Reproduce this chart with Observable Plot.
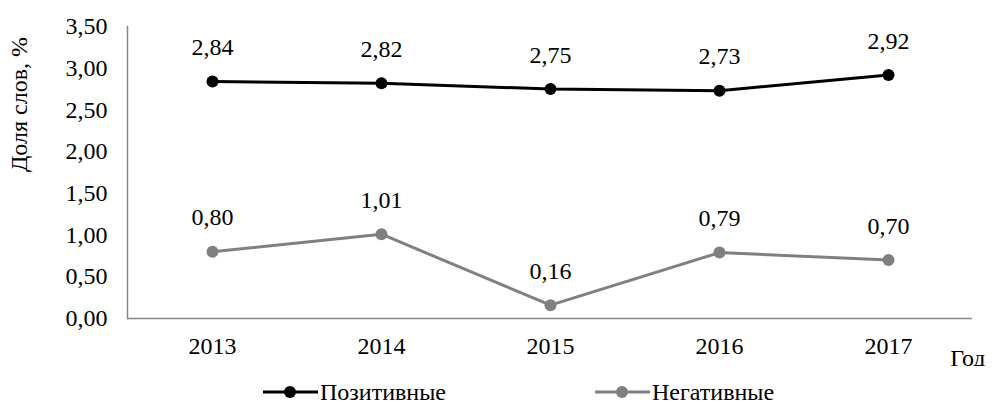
<!DOCTYPE html>
<html>
<head>
<meta charset="utf-8">
<script src="https://cdn.jsdelivr.net/npm/d3@7"></script>
<script src="https://cdn.jsdelivr.net/npm/@observablehq/plot@0.6"></script>
<style>
  body { margin: 0; background: #fff; font-family: "Liberation Serif", serif; overflow: hidden; }
  #legend { position: relative; width: 994px; height: 38px; font-size: 24px; color: #000; }
  .item { position: absolute; top: 6px; height: 40px; display: flex; align-items: center; }
  svg text { font-family: "Liberation Serif", serif; }
</style>
</head>
<body>
<div id="chart"></div>
<div id="legend"></div>
<script>
const years = ["2013", "2014", "2015", "2016", "2017"];
const positive = [2.84, 2.82, 2.75, 2.73, 2.92];
const negative = [0.80, 1.01, 0.16, 0.79, 0.70];
const seriesNames = ["Позитивные", "Негативные"];
const seriesColors = ["#000000", "#808080"];
const yTicks = [0, 0.5, 1, 1.5, 2, 2.5, 3, 3.5];

const fmt = v => d3.format(".2f")(v).replace(".", ",");

const rows = [];
years.forEach((y, i) => {
  rows.push({year: y, value: positive[i], series: seriesNames[0]});
  rows.push({year: y, value: negative[i], series: seriesNames[1]});
});

const font = '"Liberation Serif", serif';
const chart = Plot.plot({
  width: 994,
  height: 366,
  marginLeft: 127,
  marginRight: 22,
  marginTop: 26,
  marginBottom: 48,
  style: {fontFamily: font, fontSize: "24px", color: "#000", background: "#fff"},
  x: {type: "point", domain: years, padding: 0.5, label: null},
  y: {domain: [0, 3.5], label: null},
  color: {domain: seriesNames, range: seriesColors},
  marks: [
    Plot.axisY({ticks: yTicks, tickFormat: fmt, tickSize: 0, tickPadding: 20, fontSize: 24, label: null}),
    Plot.axisX({tickSize: 0, tickPadding: 18, fontSize: 24, label: null}),
    Plot.frame({anchor: "left", stroke: "#868686", strokeWidth: 1.5}),
    Plot.ruleY([0], {stroke: "#868686", strokeWidth: 1.5}),
    Plot.line(rows, {x: "year", y: "value", z: "series", stroke: "series", strokeWidth: 3}),
    Plot.dot(rows, {x: "year", y: "value", fill: "series", r: 6, stroke: null}),
    Plot.text(rows, {x: "year", y: "value", text: d => fmt(d.value), dy: -34, fontSize: 24, fill: "#000"}),
    Plot.text(["Год"], {frameAnchor: "bottom-right", textAnchor: "end", lineAnchor: "middle", dx: 13, dy: 40, fontSize: 24, fill: "#000"}),
    Plot.text(["Доля слов, %"], {frameAnchor: "top-left", textAnchor: "middle", lineAnchor: "middle", rotate: -90, dx: -108, dy: 78, fontSize: 24, fill: "#000"})
  ]
});
document.getElementById("chart").appendChild(chart);

const legend = document.getElementById("legend");
const lx = [263, 595];
seriesNames.forEach((name, i) => {
  const div = document.createElement("div");
  div.className = "item";
  div.style.left = lx[i] + "px";
  const c = seriesColors[i];
  div.innerHTML = `<svg width="55" height="14"><line x1="0" y1="7" x2="55" y2="7" stroke="${c}" stroke-width="3"/><circle cx="27" cy="7" r="6" fill="${c}"/></svg><span style="margin-left:2px">${name}</span>`;
  legend.appendChild(div);
});
</script>
</body>
</html>
